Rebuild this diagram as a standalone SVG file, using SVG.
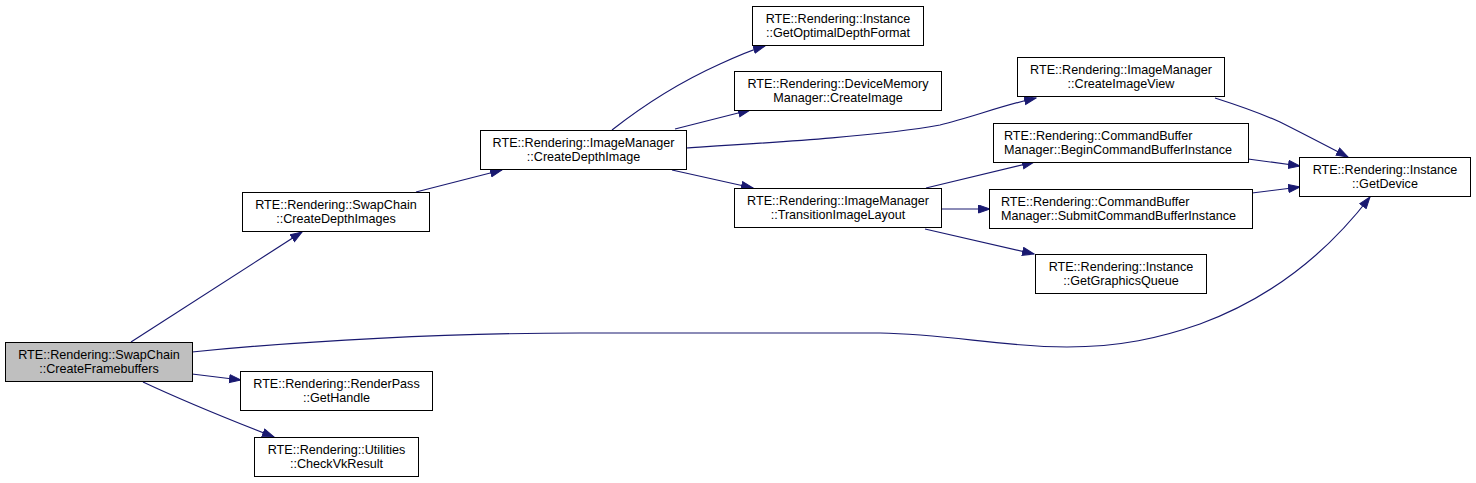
<svg xmlns="http://www.w3.org/2000/svg" width="1476" height="483" viewBox="0 0 1476 483">
<style>
.n rect{fill:#ffffff;stroke:#000000;stroke-width:1}
.n.root rect{fill:#bfbfbf}
.n text{font-family:"Liberation Sans",Arial,sans-serif;font-size:12.6px;fill:#000000;text-anchor:middle}
.n.l text{text-anchor:start}
.e path{fill:none;stroke:#191970;stroke-width:1.2;marker-end:url(#ah)}
</style>
<defs>
<marker id="ah" markerUnits="userSpaceOnUse" markerWidth="13" markerHeight="10" refX="12" refY="4.5" orient="auto" viewBox="0 0 13 10">
<path d="M0.5,0.5 L12,4.5 L0.5,8.5 Z" fill="#191970" stroke="#191970" stroke-width="1"/>
</marker>
</defs>
<rect width="1476" height="483" fill="#ffffff"/>
<g id="edges" class="e">
<path d="M131,342 L302,232"/>
<path d="M192,374 L241,380"/>
<path d="M143,382 C175,397 220,416 274,437"/>
<path d="M192,352 C300,341 450,333 580,333 L880,333 C950,334 1000,347 1067,347 C1120,347 1160,338 1200,324 C1260,302 1320,262 1370,197"/>
<path d="M416,192 L502,170"/>
<path d="M612,130 C640,108 680,82 720,64 C735,57 748,51 765,46"/>
<path d="M675,129 L750,110"/>
<path d="M686,148 C780,142 880,136 940,125 C970,118 1000,106 1036,98"/>
<path d="M672,170 L753,188"/>
<path d="M926,188 L1034,162"/>
<path d="M941,209 L990,209"/>
<path d="M925,229 L1034,254"/>
<path d="M1215,98 C1240,106 1260,113 1280,122 C1300,132 1325,145 1348,157"/>
<path d="M1248,159 L1300,166"/>
<path d="M1252,193 L1300,187"/>
</g>
<g id="n_createframebuffers" class="n root"><rect x="5.5" y="342.5" width="187" height="39"/><text x="99" y="359">RTE::Rendering::SwapChain</text><text x="99" y="373">::CreateFramebuffers</text></g>
<g id="n_gethandle" class="n"><rect x="240.5" y="371.5" width="192" height="39"/><text x="336.5" y="388">RTE::Rendering::RenderPass</text><text x="336.5" y="402">::GetHandle</text></g>
<g id="n_checkvkresult" class="n"><rect x="254.5" y="437.5" width="164" height="39"/><text x="336.5" y="454">RTE::Rendering::Utilities</text><text x="336.5" y="468">::CheckVkResult</text></g>
<g id="n_createdepthimages" class="n"><rect x="242.5" y="192.5" width="187" height="39"/><text x="336" y="209">RTE::Rendering::SwapChain</text><text x="336" y="223">::CreateDepthImages</text></g>
<g id="n_createdepthimage" class="n"><rect x="480.5" y="130.5" width="206" height="39"/><text x="583.5" y="147">RTE::Rendering::ImageManager</text><text x="583.5" y="161">::CreateDepthImage</text></g>
<g id="n_getoptimaldepthformat" class="n"><rect x="752.5" y="6.5" width="171" height="39"/><text x="838" y="23">RTE::Rendering::Instance</text><text x="838" y="37">::GetOptimalDepthFormat</text></g>
<g id="n_createimage" class="n"><rect x="734.5" y="71.5" width="207" height="39"/><text x="838" y="88">RTE::Rendering::DeviceMemory</text><text x="838" y="102">Manager::CreateImage</text></g>
<g id="n_transitionimagelayout" class="n"><rect x="734.5" y="188.5" width="207" height="39"/><text x="838" y="205">RTE::Rendering::ImageManager</text><text x="838" y="219">::TransitionImageLayout</text></g>
<g id="n_createimageview" class="n"><rect x="1017.5" y="57.5" width="207" height="39"/><text x="1121" y="74">RTE::Rendering::ImageManager</text><text x="1121" y="88">::CreateImageView</text></g>
<g id="n_begincommandbufferinstance" class="n l"><rect x="993.5" y="123.5" width="255" height="39"/><text x="1004" y="140">RTE::Rendering::CommandBuffer</text><text x="1004" y="154">Manager::BeginCommandBufferInstance</text></g>
<g id="n_submitcommandbufferinstance" class="n l"><rect x="989.5" y="189.5" width="263" height="39"/><text x="1001" y="206">RTE::Rendering::CommandBuffer</text><text x="1001" y="220">Manager::SubmitCommandBufferInstance</text></g>
<g id="n_getgraphicsqueue" class="n"><rect x="1035.5" y="254.5" width="171" height="39"/><text x="1121" y="271">RTE::Rendering::Instance</text><text x="1121" y="285">::GetGraphicsQueue</text></g>
<g id="n_getdevice" class="n"><rect x="1299.5" y="157.5" width="171" height="39"/><text x="1385" y="174">RTE::Rendering::Instance</text><text x="1385" y="188">::GetDevice</text></g>
</svg>
